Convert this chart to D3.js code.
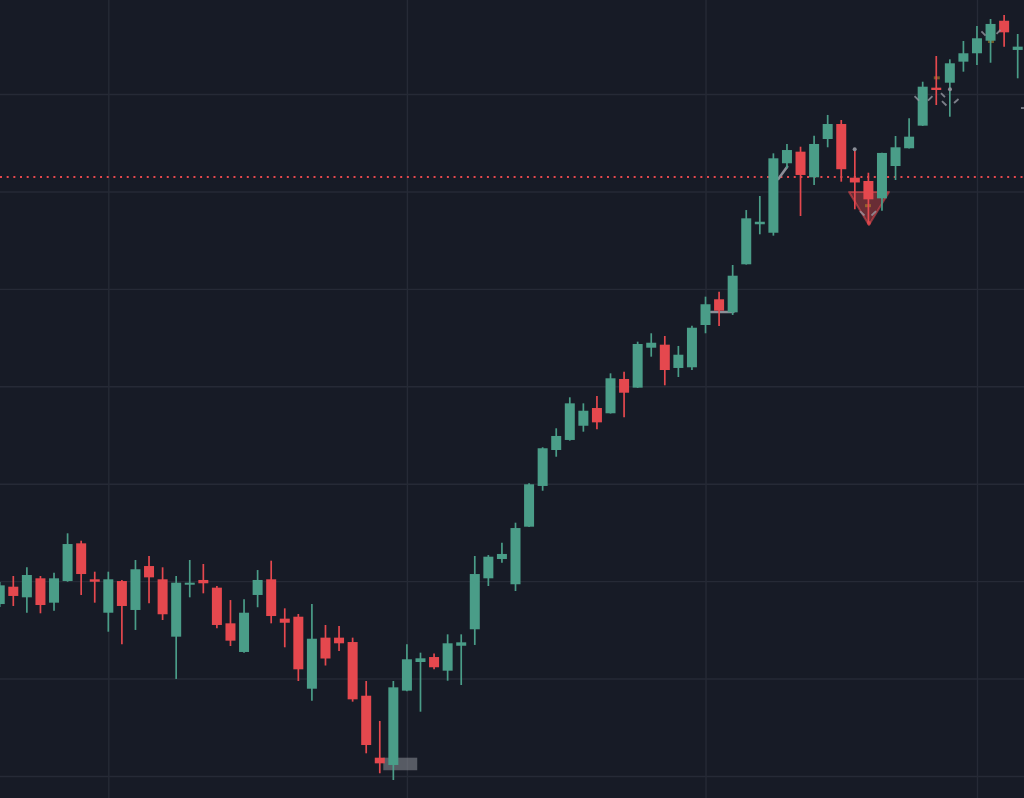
<!DOCTYPE html>
<html>
<head>
<meta charset="utf-8">
<script src="https://cdn.jsdelivr.net/npm/d3@7"></script>
<style>
  html, body { margin: 0; padding: 0; background: #171b26; overflow: hidden; }
  svg { display: block; }
  .grid .domain { display: none; }
  .grid text { display: none; }
</style>
</head>
<body>
<div id="chart"></div>
<script>
// ---- data (session index 0..75) ----
const opens  = [4276.5,4294.3,4283.4,4302.9,4277.9,4300.1,4338.8,4301.9,4267.6,4300.1,
                4270.4,4315.5,4301.9,4243.0,4297.1,4301.2,4293.3,4256.7,4227.3,4285.8,
                4301.9,4261.5,4263.5,4189.6,4242.0,4242.0,4237.5,4182.4,4118.8,4111.3,
                4187.6,4217.0,4222.1,4208.1,4233.7,4250.6,4302.9,4322.7,4296.8,4355.9,
                4397.7,4434.6,4444.9,4459.5,4477.7,4472.3,4507.5,4498.6,4539.6,4542.7,
                4518.8,4519.5,4562.9,4589.3,4575.9,4625.2,4666.3,4657.6,4728.9,4740.8,
                4714.5,4753.8,4769.2,4714.1,4710.7,4692.9,4726.1,4744.3,4767.5,4806.5,
                4811.6,4833.2,4841.8,4854.7,4875.2,4845.2];
const highs  = [4299.1,4305.3,4314.2,4305.3,4308.7,4349.1,4341.5,4309.7,4309.7,4301.2,
                4321.7,4325.8,4314.2,4305.3,4321.7,4317.6,4295.0,4280.6,4281.4,4311.4,
                4321.0,4272.1,4266.3,4276.5,4255.0,4254.0,4242.0,4197.5,4156.5,4197.5,
                4235.2,4226.6,4225.7,4245.4,4245.4,4325.8,4326.8,4339.5,4360.0,4400.4,
                4437.4,4456.9,4488.7,4482.5,4490.0,4513.3,4515.0,4545.8,4554.4,4551.6,
                4541.4,4562.2,4592.0,4597.1,4624.5,4680.9,4695.3,4739.1,4748.7,4745.9,
                4757.2,4778.5,4773.3,4743.2,4719.2,4739.8,4756.9,4775.1,4812.6,4839.0,
                4835.6,4854.4,4869.8,4877.0,4881.1,4861.6];
const lows   = [4273.5,4274.5,4267.6,4267.0,4269.7,4299.4,4285.8,4277.9,4248.1,4235.2,
                4249.9,4277.3,4260.1,4199.6,4283.4,4287.5,4251.6,4233.4,4226.5,4273.2,
                4256.7,4232.1,4197.5,4177.3,4213.4,4228.3,4176.3,4123.3,4102.8,4095.9,
                4187.0,4166.0,4209.6,4197.8,4193.4,4234.5,4295.0,4318.9,4289.9,4355.5,
                4392.8,4427.7,4444.2,4453.4,4455.9,4472.0,4468.2,4498.3,4530.4,4501.0,
                4509.5,4516.7,4554.4,4561.9,4573.2,4624.9,4656.0,4654.6,4723.7,4674.8,
                4706.6,4745.3,4710.0,4681.7,4667.9,4680.2,4711.7,4744.0,4767.2,4788.7,
                4776.7,4822.9,4829.8,4832.1,4848.6,4816.1];
const closes = [4295.7,4284.8,4306.3,4275.5,4302.9,4338.1,4307.3,4299.4,4301.9,4274.5,
                4312.2,4303.9,4266.0,4298.4,4298.4,4297.8,4255.0,4238.9,4267.6,4301.2,
                4264.2,4257.3,4209.5,4240.9,4220.6,4236.2,4178.7,4131.8,4113.0,4191.0,
                4219.8,4220.8,4211.6,4236.2,4237.2,4307.3,4325.1,4327.9,4354.5,4399.4,
                4436.4,4449.0,4482.5,4474.9,4463.0,4508.2,4493.4,4543.4,4544.7,4516.7,
                4532.4,4560.1,4584.2,4577.6,4613.5,4672.4,4668.9,4734.0,4742.5,4716.9,
                4748.7,4769.2,4722.8,4709.2,4691.9,4739.5,4745.3,4756.2,4807.5,4804.1,
                4831.5,4841.8,4857.2,4871.9,4863.3,4848.6];

// grid: price levels and month-start session indices
const priceTicks = [4100,4200,4300,4400,4500,4600,4700,4800];
const monthStarts = [8, 30, 52, 72];

// horizontal price line (dotted)
const priceLine = 4714.8;

// drawings / annotations (session index, price)
const zoneRect = { i0: 28.26, i1: 30.76, p0: 4105.9, p1: 4118.8 };
const grayLines = [
  { i0: 52.4, p0: 4576.3, i1: 54.05, p1: 4576.3 },
  { i0: 57.36, p0: 4712.8, i1: 58.02, p1: 4725.4 }
];
const sellTriangle = [[62.57, 4699.4], [65.52, 4699.4], [64.04, 4665.5]];
const signalDashes = [
  { i0: 67.40, p0: 4797.9, i1: 67.73, p1: 4793.3 },
  { i0: 68.39, p0: 4793.3, i1: 68.72, p1: 4797.9 },
  { i0: 69.35, p0: 4801.0, i1: 69.64, p1: 4796.9 },
  { i0: 69.42, p0: 4792.8, i1: 69.75, p1: 4788.2 },
  { i0: 70.31, p0: 4790.8, i1: 70.64, p1: 4794.9 },
  { i0: 63.38, p0: 4679.9, i1: 63.71, p1: 4675.3 },
  { i0: 64.56, p0: 4679.9, i1: 64.23, p1: 4675.3 },
  { i0: 72.33, p0: 4864.2, i1: 72.63, p1: 4860.0 },
  { i0: 73.44, p0: 4861.6, i1: 73.73, p1: 4865.7 },
  { i0: 75.24, p0: 4785.6, i1: 75.46, p1: 4785.6 }
];
const goldMarks = [[63.97, 4685.4], [69.04, 4816.6], [73.03, 4853.9]];
const grayDots = [[62.99, 4743.2], [70.01, 4804.8]];

// ---- layout ----
const W = 1024, H = 798;
const x = d3.scaleLinear().domain([0, 75]).range([-0.27, 1017.7]);
const y = d3.scaleLinear().domain([4100, 4800]).range([776, 94]);

const UP = "#4a9d88", DOWN = "#e5484e", BG = "#171b26", GRID = "#262a36";

const svg = d3.select("#chart").append("svg")
  .attr("width", W).attr("height", H);

svg.append("rect").attr("width", W).attr("height", H).attr("fill", BG);

// horizontal grid via axis
const gy = svg.append("g").attr("class", "grid")
  .call(d3.axisLeft(y).tickValues(priceTicks).tickSize(-W).tickFormat(""));
gy.selectAll("line").attr("stroke", GRID).attr("stroke-width", 1.4);

// vertical grid via axis
const gx = svg.append("g").attr("class", "grid")
  .call(d3.axisBottom(x).tickValues(monthStarts).tickSize(H).tickFormat(""));
gx.selectAll("line").attr("stroke", GRID).attr("stroke-width", 1.4);

// dotted price line
svg.append("line")
  .attr("x1", 0).attr("x2", W)
  .attr("y1", y(priceLine)).attr("y2", y(priceLine))
  .attr("stroke", DOWN).attr("stroke-width", 2)
  .attr("stroke-dasharray", "2 4.67");

// zone rect
svg.append("rect")
  .attr("x", x(zoneRect.i0)).attr("width", x(zoneRect.i1) - x(zoneRect.i0))
  .attr("y", y(zoneRect.p1)).attr("height", y(zoneRect.p0) - y(zoneRect.p1))
  .attr("fill", "rgba(128,130,138,0.62)");

// triangle
svg.append("path")
  .attr("d", d3.line().x(d => x(d[0])).y(d => y(d[1])).curve(d3.curveLinearClosed)(sellTriangle))
  .attr("fill", "rgba(229,72,78,0.4)")
  .attr("stroke", "rgba(229,72,78,0.55)").attr("stroke-width", 2)
  .attr("stroke-linejoin", "round");

// gray drawing lines
svg.selectAll("line.draw").data(grayLines).enter().append("line")
  .attr("class", "draw")
  .attr("x1", d => x(d.i0)).attr("y1", d => y(d.p0))
  .attr("x2", d => x(d.i1)).attr("y2", d => y(d.p1))
  .attr("stroke", "#8c8f98").attr("stroke-width", 2.6).attr("stroke-linecap", "round");

// gold marks
svg.selectAll("rect.gold").data(goldMarks).enter().append("rect")
  .attr("class", "gold")
  .attr("x", d => x(d[0]) - 3).attr("y", d => y(d[1]) - 1.5)
  .attr("width", 6).attr("height", 3)
  .attr("fill", "rgba(190,140,40,0.55)");

// candles
const idx = d3.range(opens.length);
const bodyW = 10;
const g = svg.append("g");
const candle = g.selectAll("g.c").data(idx).enter().append("g").attr("class", "c");
candle.append("line")
  .attr("x1", i => x(i)).attr("x2", i => x(i))
  .attr("y1", i => y(highs[i])).attr("y2", i => y(lows[i]))
  .attr("stroke", i => closes[i] >= opens[i] ? UP : DOWN)
  .attr("stroke-width", 1.7);
candle.append("rect")
  .attr("x", i => x(i) - bodyW / 2)
  .attr("width", bodyW)
  .attr("y", i => y(Math.max(opens[i], closes[i])))
  .attr("height", i => Math.max(2, Math.abs(y(opens[i]) - y(closes[i]))))
  .attr("fill", i => closes[i] >= opens[i] ? UP : DOWN);

// signal dashes (on top)
svg.selectAll("line.sig").data(signalDashes).enter().append("line")
  .attr("class", "sig")
  .attr("x1", d => x(d.i0)).attr("y1", d => y(d.p0))
  .attr("x2", d => x(d.i1)).attr("y2", d => y(d.p1))
  .attr("stroke", "rgba(150,153,162,0.8)").attr("stroke-width", 1.8);

// red dot at triangle tip
svg.append("circle")
  .attr("cx", x(sellTriangle[2][0])).attr("cy", y(sellTriangle[2][1]) - 2).attr("r", 2)
  .attr("fill", "rgba(229,72,78,0.8)");

// gray dots
svg.selectAll("circle.dot").data(grayDots).enter().append("circle")
  .attr("class", "dot")
  .attr("cx", d => x(d[0])).attr("cy", d => y(d[1])).attr("r", 2)
  .attr("fill", "#8c8f98");
</script>
</body>
</html>
